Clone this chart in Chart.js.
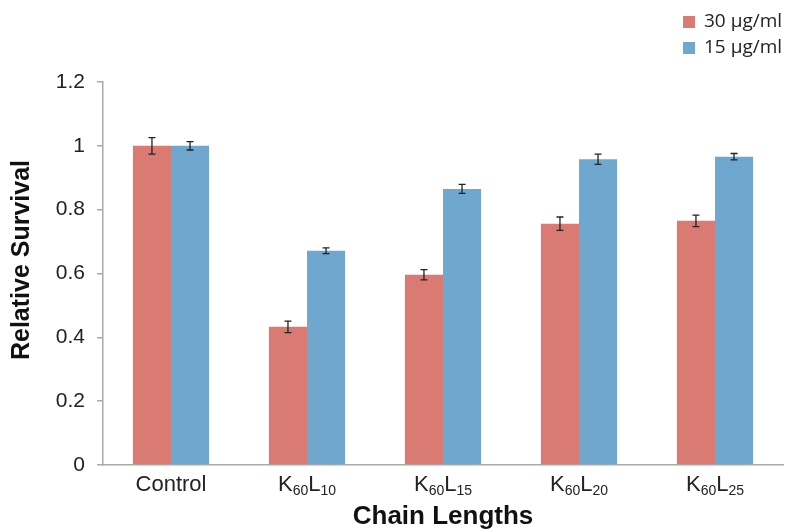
<!DOCTYPE html>
<html>
<head>
<meta charset="utf-8">
<script src="https://cdn.jsdelivr.net/npm/chart.js@4/dist/chart.umd.min.js"></script>
<style>
  html, body { margin: 0; padding: 0; background: #fff; }
  #wrap { width: 790px; height: 529px; position: relative; }
</style>
</head>
<body>
<div id="wrap"><canvas id="survivalChart"></canvas></div>
<script>
// chain length groups and the two dose series
var categories = ['Control', 'K60L10', 'K60L15', 'K60L20', 'K60L25'];
var seriesLabels = ['30 µg/ml', '15 µg/ml'];
var survival30 = [1.0, 0.433, 0.596, 0.756, 0.765];
var survival15 = [1.0, 0.671, 0.865, 0.958, 0.966];
var err30 = [0.026, 0.018, 0.016, 0.021, 0.018];
var err15 = [0.013, 0.009, 0.014, 0.016, 0.010];
var seriesColors = ['#D97A73', '#70A7CF'];
var yTitle = 'Relative Survival';

var sansFont = '"Liberation Sans", Arial, sans-serif';

// black error bars with caps, drawn on top of each bar
var errorBars = {
    id: 'errorBars',
    afterDatasetsDraw: function(chart){
        var ctx = chart.ctx;
        var yScale = chart.scales.y;
        chart.data.datasets.forEach(function(ds, i){
            var meta = chart.getDatasetMeta(i);
            meta.data.forEach(function(bar, j){
                var v = ds.data[j];
                var e = ds.errors[j];
                var top = yScale.getPixelForValue(v + e);
                var bot = yScale.getPixelForValue(v - e);
                ctx.save();
                ctx.strokeStyle = '#222';
                ctx.lineWidth = 1.3;
                ctx.beginPath();
                ctx.moveTo(bar.x, top);
                ctx.lineTo(bar.x, bot);
                ctx.moveTo(bar.x - 3.5, top);
                ctx.lineTo(bar.x + 3.5, top);
                ctx.moveTo(bar.x - 3.5, bot);
                ctx.lineTo(bar.x + 3.5, bot);
                ctx.stroke();
                ctx.restore();
            });
        });
    }
};

// category names with subscript numbers, the y title and the legend
var labelsAndLegend = {
    id: 'labelsAndLegend',
    afterDraw: function(chart){
        var ctx = chart.ctx;
        var xScale = chart.scales.x;
        var baseY = chart.chartArea.bottom + 26;
        ctx.save();
        ctx.fillStyle = '#222';
        ctx.textBaseline = 'alphabetic';
        chart.data.labels.forEach(function(label, i){
            var parts = label.match(/[A-Za-z]+|\d+/g);
            var pieces = parts.map(function(p){
                var sub = /^\d/.test(p);
                ctx.font = (sub ? '14px ' : '22px ') + sansFont;
                return {text: p, sub: sub, w: ctx.measureText(p).width};
            });
            var total = pieces.reduce(function(a, p){ return a + p.w; }, 0);
            var x = xScale.getPixelForValue(i) - total / 2;
            pieces.forEach(function(p){
                ctx.font = (p.sub ? '14px ' : '22px ') + sansFont;
                ctx.fillText(p.text, x, p.sub ? baseY + 4 : baseY);
                x += p.w;
            });
        });

        // rotated y axis title, sitting a bit above the axis middle
        ctx.save();
        ctx.translate(22, 260);
        ctx.rotate(-Math.PI / 2);
        ctx.font = 'bold 25px ' + sansFont;
        ctx.fillStyle = '#111';
        ctx.textAlign = 'center';
        ctx.textBaseline = 'middle';
        ctx.fillText(yTitle, 0, 0);
        ctx.restore();

        ctx.font = '19px "Open Sans", sans-serif';
        ctx.textBaseline = 'middle';
        chart.data.datasets.forEach(function(ds, i){
            var y = 22 + i * 26;
            ctx.fillStyle = ds.backgroundColor;
            ctx.fillRect(683, y - 6, 12, 12);
            ctx.fillStyle = '#222';
            ctx.fillText(ds.label, 704, y);
        });
        ctx.restore();
    }
};

var survivalChart = new Chart(document.getElementById('survivalChart'), {
    type: 'bar',
    data: {
        labels: categories,
        datasets: [
            {label: seriesLabels[0], data: survival30, errors: err30, backgroundColor: seriesColors[0]},
            {label: seriesLabels[1], data: survival15, errors: err15, backgroundColor: seriesColors[1]}
        ]
    },
    options: {
        responsive: true,
        maintainAspectRatio: false,
        animation: false,
        layout: {padding: {top: 82, right: 7, left: 0, bottom: 0}},
        datasets: {bar: {categoryPercentage: 0.56, barPercentage: 1.0}},
        plugins: {legend: {display: false}, tooltip: {enabled: false}},
        scales: {
            x: {
                grid: {display: false},
                border: {display: true, color: '#aaa', width: 1.5},
                ticks: {display: false},
                title: {
                    display: true,
                    text: 'Chain Lengths',
                    color: '#111',
                    font: {family: sansFont, size: 26, weight: 'bold'},
                    padding: {top: 0, bottom: -3}
                },
                afterFit: function(scale){ scale.height = 64; }
            },
            y: {
                min: 0,
                max: 1.2,
                ticks: {
                    stepSize: 0.2,
                    color: '#222',
                    padding: 12,
                    font: {family: sansFont, size: 21},
                    callback: function(value){ return String(+value.toFixed(1)); }
                },
                grid: {drawOnChartArea: false, drawTicks: true, tickLength: 6, color: '#aaa', lineWidth: 1.5},
                border: {display: true, color: '#aaa', width: 1.5},
                afterFit: function(scale){ scale.width = 103; }
            }
        }
    },
    plugins: [errorBars, labelsAndLegend]
});
</script>
</body>
</html>
